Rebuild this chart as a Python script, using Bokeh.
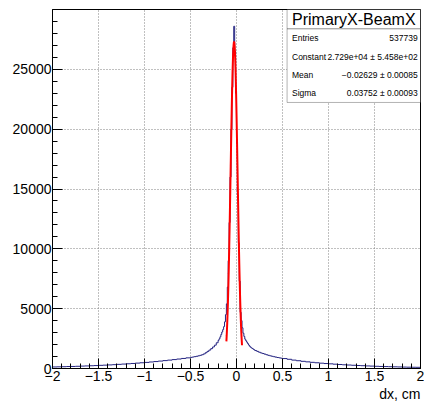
import numpy as np
from bokeh.plotting import figure
from bokeh.models import (Range1d, FixedTicker, CustomJSTickFormatter, BoxAnnotation, Label, Title)
from bokeh.embed import file_html
from bokeh.resources import INLINE

# ---------------- data ----------------
hist_title = "PrimaryX-BeamX"
x_label = "dx, cm"

# bin edges: coarse outer tails (0.05), medium (0.02), fine core (0.01)
outer_left_edges = [round(v, 3) for v in np.arange(-2.0, -0.5 + 1e-9, 0.05)]
mid_left_edges = [round(v, 3) for v in np.arange(-0.5, -0.2 + 1e-9, 0.02)]
core_edges = [round(v, 3) for v in np.arange(-0.2, 0.2 + 1e-9, 0.01)]
mid_right_edges = [round(v, 3) for v in np.arange(0.2, 0.5 + 1e-9, 0.02)]
outer_right_edges = [round(v, 3) for v in np.arange(0.5, 2.0 + 1e-9, 0.05)]

outer_left_counts = [130, 140, 150, 165, 170, 185, 200, 215, 230, 245, 265, 280,
                     300, 320, 345, 370, 395, 420, 450, 480, 510, 545, 580, 620,
                     660, 700, 745, 790, 840, 890]
mid_left_counts = [930, 960, 990, 1020, 1060, 1100, 1150, 1220, 1320, 1430,
                   1540, 1660, 1800, 1950, 2150]
core_counts = [2350, 2480, 2650, 2850, 3050, 3250, 3500, 3900, 4500, 5400,
               6800, 9000, 12200, 16000, 20000, 23500, 26800, 28600, 26500, 23000,
               18800, 14500, 10500, 7300, 4700, 4000, 3400, 2950, 2680, 2450,
               2320, 2200, 2080, 1960, 1860, 1780, 1720, 1670, 1610, 1560]
mid_right_counts = [1500, 1430, 1360, 1300, 1250, 1200, 1150, 1100, 1060, 1020,
                    985, 950, 920, 890, 860]
outer_right_counts = [830, 770, 700, 650, 600, 555, 515, 480, 445, 415, 390, 360,
                      335, 310, 290, 270, 250, 235, 215, 200, 185, 170, 160, 150,
                      140, 130, 120, 110, 105, 100]

# gaussian fit parameters (from stats box)
fit_constant = 2.729e4
fit_mean = -0.02629
fit_sigma = 0.03752
fit_range = [-0.11, 0.06]

stats_names = ["Entries", "Constant", "Mean", "Sigma"]
stats_values = ["537739", "2.729e+04 \u00b1 5.458e+02",
                "\u22120.02629 \u00b1 0.00085", "0.03752 \u00b1 0.00093"]

x_ticks = [-2, -1.5, -1, -0.5, 0, 0.5, 1, 1.5, 2]
y_ticks = [0, 5000, 10000, 15000, 20000, 25000]
x_minor = [round(v, 2) for v in np.arange(-2, 2.001, 0.1)]
y_minor = list(range(0, 30001, 1000))

X_MIN, X_MAX = -2.0, 2.0
Y_MIN, Y_MAX = 0.0, 30000.0

# ---------------- build histogram outline ----------------
edges = (outer_left_edges[:-1] + mid_left_edges[:-1] + core_edges[:-1]
         + mid_right_edges[:-1] + outer_right_edges)
counts = outer_left_counts + mid_left_counts + core_counts + mid_right_counts + outer_right_counts
xs, ys = [edges[0]], [0]
for i, c in enumerate(counts):
    xs += [edges[i], edges[i + 1]]
    ys += [c, c]
xs.append(edges[-1]); ys.append(0)

fx = np.linspace(fit_range[0], fit_range[1], 200)
fy = fit_constant * np.exp(-0.5 * ((fx - fit_mean) / fit_sigma) ** 2)

FONT = "Liberation Sans"
W, H = 424, 401
FL, FR, FT, FB = 52, 420, 9, 368   # frame in canvas px

p = figure(width=W, height=H, output_backend="svg", toolbar_location=None,
           x_range=Range1d(X_MIN, X_MAX), y_range=Range1d(Y_MIN, Y_MAX),
           min_border_left=FL, min_border_right=W - FR, min_border_top=FT,
           min_border_bottom=H - FB)
p.background_fill_color = "white"
p.border_fill_color = "white"
p.outline_line_color = "black"
p.outline_line_width = 1

p.line(xs, ys, line_color="#232380", line_width=1)
p.line(fx, fy, line_color="#ff0000", line_width=2)

for ax, ticks, minor in ((p.xaxis[0], x_ticks, x_minor), (p.yaxis[0], y_ticks, y_minor)):
    ax.ticker = FixedTicker(ticks=ticks, minor_ticks=minor)
    ax.major_tick_in = 10
    ax.major_tick_out = 0
    ax.minor_tick_in = 5
    ax.minor_tick_out = 0
    ax.axis_line_color = "black"
    ax.major_tick_line_color = "black"
    ax.minor_tick_line_color = "black"
    ax.major_label_text_font = FONT
    ax.major_label_text_font_size = "14px"
    ax.major_label_text_color = "black"

p.xaxis[0].major_label_standoff = 2
p.yaxis[0].major_label_standoff = 1
p.xaxis[0].formatter = CustomJSTickFormatter(
    code="return tick < 0 ? '\u2212' + String(-tick) : String(tick);")

p.xgrid.ticker = FixedTicker(ticks=x_ticks)
p.ygrid.ticker = FixedTicker(ticks=y_ticks)
for g in (p.xgrid, p.ygrid):
    g.grid_line_color = "#808080"
    g.grid_line_dash = "1 2"
    g.grid_line_width = 1

p.add_layout(Title(text=x_label, align="right", text_font=FONT, text_font_size="14px",
                   text_font_style="normal", text_color="black", standoff=0, offset=0), "below")

# ---------------- stats box ----------------
# helpers: reference pixel -> canvas pixel -> data
SX, SY = W / 432, H / 409

def px_x(px):
    cx = px * SX
    return X_MIN + (cx - FL) / (FR - FL) * (X_MAX - X_MIN)

def px_y(py):
    cy = py * SY
    return Y_MIN + (FB - cy) / (FB - FT) * (Y_MAX - Y_MIN)

box_l, box_r = px_x(292), X_MAX
box_top, box_sep, box_bot = Y_MAX, px_y(29), px_y(104)
p.add_layout(BoxAnnotation(left=box_l, right=box_r, top=box_top, bottom=box_sep,
                           fill_color="white", fill_alpha=1, line_color="black", line_width=1))
p.add_layout(BoxAnnotation(left=box_l, right=box_r, top=box_sep, bottom=box_bot,
                           fill_color="white", fill_alpha=1, line_color="black", line_width=1))
p.add_layout(Label(x=(box_l + box_r) / 2, y=px_y(19), text=hist_title, text_font=FONT,
                   text_font_size="16px", text_align="center", text_baseline="middle",
                   text_color="black"))
row_h = (104 - 29) / 4
for i, (n, v) in enumerate(zip(stats_names, stats_values)):
    yc = px_y(29 + row_h * (i + 0.5))
    p.add_layout(Label(x=px_x(297), y=yc, text=n, text_font=FONT, text_font_size="8.5px",
                       text_align="left", text_baseline="middle", text_color="black"))
    p.add_layout(Label(x=px_x(425), y=yc, text=v, text_font=FONT, text_font_size="8.5px",
                       text_align="right", text_baseline="middle", text_color="black"))

open("out.html", "w").write(file_html(p, INLINE))
